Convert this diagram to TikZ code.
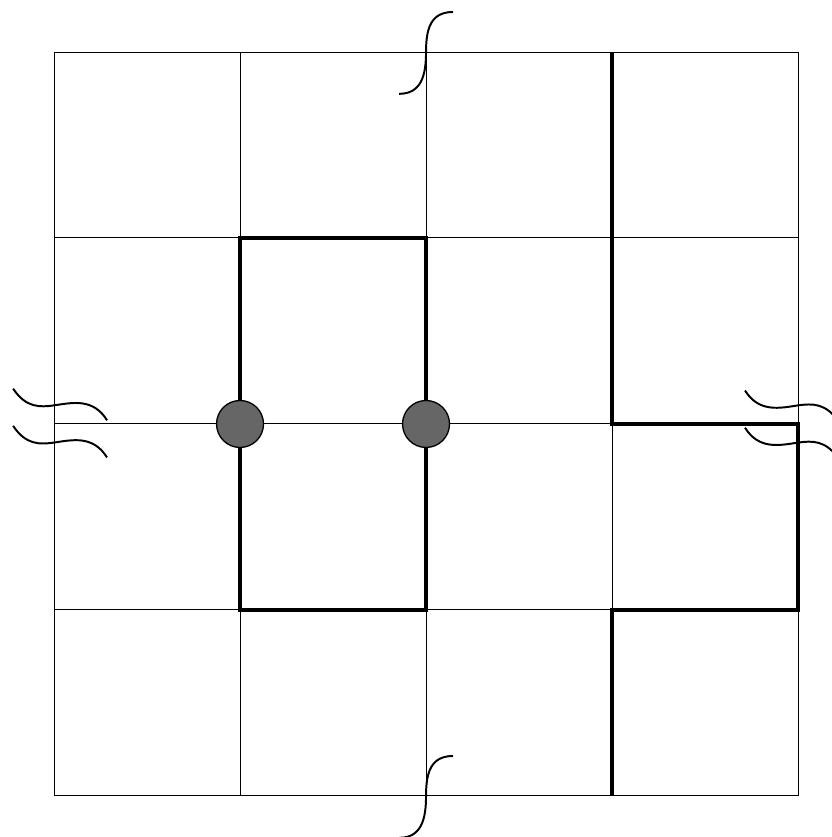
\documentclass[tikz,border=0pt]{standalone}
\usepackage{tikz}
\usetikzlibrary{positioning}

\begin{document}
\begin{tikzpicture}[
    gridline/.style={line width=0.3pt},
    bound/.style={line width=1.2pt},
    wave/.style={line width=0.6pt},
    site/.style={circle,draw,line width=0.4pt,fill=black!60,minimum size=0.505cm,inner sep=0pt}
  ]
    \useasboundingbox (-0.581,-0.441) rectangle (8.355,8.559);

    \draw[gridline] (0,0) grid[step=2] (8,8);

    % thick boundaries
    \draw[bound] (2,2) rectangle (4,6);
    \draw[bound] (6,8) -- (6,4) -- (8,4) -- (8,2) -- (6,2) -- (6,0);

    \node[site] (left) at (2,4) {};
    \node[site] (right) at (4,4) {};

    % break marks
    \draw[wave] (3.71,7.55) .. controls (3.95,7.55) and (4,7.75) .. (4,8) .. controls (4,8.25) and (4.05,8.43) .. (4.29,8.43);
    \draw[wave] (3.71,-0.45) .. controls (3.95,-0.45) and (4,-0.25) .. (4,0) .. controls (4,0.25) and (4.05,0.43) .. (4.29,0.43);
    \foreach \y in {4.2,3.8} {
      \draw[wave,shift={(0,\y)}] (-0.44,0.18) .. controls (-0.3,-0.03) and (-0.15,-0.02) .. (0,0) .. controls (0.2,0.03) and (0.42,0.08) .. (0.57,-0.16);
      \draw[wave,shift={(8,\y)},rotate=180] (-0.44,0.18) .. controls (-0.3,-0.03) and (-0.15,-0.02) .. (0,0) .. controls (0.2,0.03) and (0.42,0.08) .. (0.57,-0.16);
    }
  \end{tikzpicture}
\end{document}
